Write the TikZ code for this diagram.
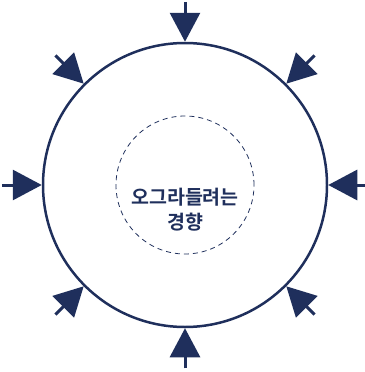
\documentclass[tikz,border=0pt]{standalone}
\usepackage{fontspec}
\newfontfamily\krfont{Noto Sans CJK KR Bold}
\usepackage{xcolor}
\usetikzlibrary{arrows.meta, positioning, calc}
\definecolor{navy}{RGB}{31,47,92}

\begin{document}
\begin{tikzpicture}[
    x=1pt, y=-1pt,
    ring/.style={circle, draw=navy, line width=2.5pt, minimum size=284pt, inner sep=0pt},
    core/.style={circle, draw=navy, line width=0.8pt, dash pattern=on 5pt off 4pt,
                 minimum size=138pt, inner sep=0pt},
    push/.style={-{Triangle[length=29pt, width=30pt]}, line width=3pt, color=navy},
    lbl/.style={font=\krfont\fontsize{19.5}{25}\selectfont, text=navy, align=center},
]
    \useasboundingbox (0,0) rectangle (364,372);

    \node[ring] (outer) at (185,185) {};
    \node[core] (inner) at (185,185) {};
    \node[lbl] (txt) at (185,210) {오그라들려는\\경향};

    % pressure from all sides
    \foreach \a in {0,45,...,315}
        \draw[push] ($(outer.\a)+(\a:40pt)$) -- (outer.\a);
\end{tikzpicture}
\end{document}
